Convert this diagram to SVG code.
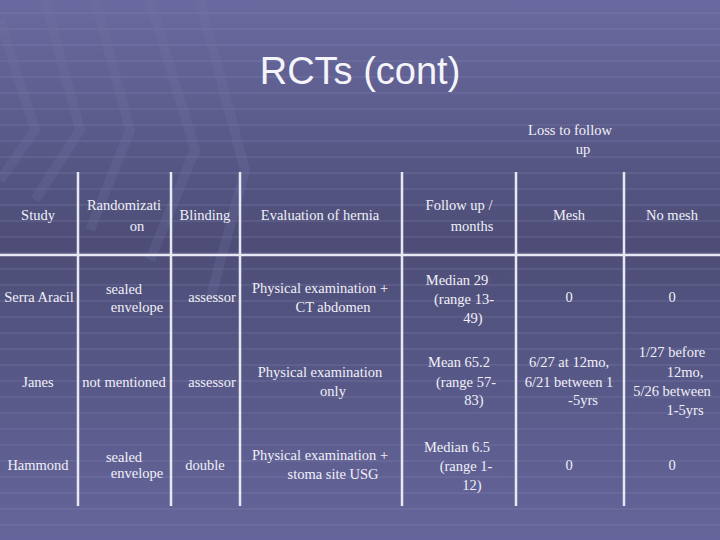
<svg xmlns="http://www.w3.org/2000/svg" width="720" height="540" viewBox="0 0 720 540">
<defs>
<linearGradient id="bg" x1="0" y1="0" x2="0" y2="1">
<stop offset="0" stop-color="#6a6aa0"/>
<stop offset="0.45" stop-color="#4d4d77"/>
<stop offset="1" stop-color="#65659b"/>
</linearGradient>
<pattern id="stripes" width="720" height="16" patternUnits="userSpaceOnUse">
<rect x="0" y="12" width="720" height="2" fill="#8585b5" opacity="0.2"/>
</pattern>
<style>
.t{font-size:14.5px;fill:#f0f0f8}
.m{text-anchor:middle}
.g line{stroke:#e8e8f2;stroke-width:2.5}
.d{stroke:#7272a4;stroke-width:10;fill:none;opacity:0.25}
</style>
</defs>
<rect width="720" height="540" fill="url(#bg)"/>
<rect width="720" height="540" fill="url(#stripes)"/>
<g class="bgdiag">
<path class="d" d="M0 20 L35 130 L0 180"/>
<path class="d" d="M45 0 L80 130 L35 200"/>
<path class="d" d="M95 0 L130 130 L90 230"/>
<path class="d" d="M150 0 L195 150 L150 260"/>
<path class="d" d="M200 0 L245 170 L210 300"/>
</g>
<text x="360" y="84" font-family="Liberation Sans,Arial,sans-serif" font-size="38" fill="#f4f4fa" text-anchor="middle">RCTs (cont)</text>
<g id="connectors" class="g">
<line x1="78" y1="172" x2="78" y2="506"/>
<line x1="171" y1="172" x2="171" y2="506"/>
<line x1="240" y1="172" x2="240" y2="506"/>
<line x1="402" y1="172" x2="402" y2="506"/>
<line x1="516" y1="172" x2="516" y2="506"/>
<line x1="624" y1="172" x2="624" y2="506"/>
<line x1="0" y1="255" x2="720" y2="255"/>
</g>
<g font-family="'Liberation Serif', 'DejaVu Serif', serif">
<g id="header" class="t">
<text class="m" x="570" y="135">Loss to follow</text>
<text class="m" x="583" y="154">up</text>
<text class="m" x="38" y="220">Study</text>
<text class="m" x="124" y="210">Randomizati</text>
<text class="m" x="137" y="231">on</text>
<text class="m" x="205" y="220">Blinding</text>
<text class="m" x="320" y="220">Evaluation of hernia</text>
<text class="m" x="459" y="210">Follow up /</text>
<text class="m" x="472" y="231">months</text>
<text class="m" x="569" y="220">Mesh</text>
<text class="m" x="672" y="220">No mesh</text>
</g>
<g id="row-serra" class="t">
<text class="m" x="39" y="302">Serra Aracil</text>
<text class="m" x="124" y="294">sealed</text>
<text class="m" x="137" y="312">envelope</text>
<text class="m" x="212" y="302">assessor</text>
<text class="m" x="320" y="293">Physical examination +</text>
<text class="m" x="333" y="312">CT abdomen</text>
<text class="m" x="457" y="285">Median 29</text>
<text class="m" x="464" y="304">(range 13-</text>
<text class="m" x="473" y="323">49)</text>
<text class="m" x="569" y="302">0</text>
<text class="m" x="672" y="302">0</text>
</g>
<g id="row-janes" class="t">
<text class="m" x="38" y="387">Janes</text>
<text class="m" x="124" y="387">not mentioned</text>
<text class="m" x="212" y="387">assessor</text>
<text class="m" x="320" y="377">Physical examination</text>
<text class="m" x="333" y="396">only</text>
<text class="m" x="459" y="367">Mean 65.2</text>
<text class="m" x="466" y="387">(range 57-</text>
<text class="m" x="474" y="405">83)</text>
<text class="m" x="569" y="367">6/27 at 12mo,</text>
<text class="m" x="569" y="387">6/21 between 1</text>
<text class="m" x="583" y="405">-5yrs</text>
<text class="m" x="672" y="357">1/27 before</text>
<text class="m" x="685" y="377">12mo,</text>
<text class="m" x="672" y="396">5/26 between</text>
<text class="m" x="685" y="415">1-5yrs</text>
</g>
<g id="row-hammond" class="t">
<text class="m" x="38" y="470">Hammond</text>
<text class="m" x="124" y="462">sealed</text>
<text class="m" x="137" y="478">envelope</text>
<text class="m" x="205" y="470">double</text>
<text class="m" x="320" y="460">Physical examination +</text>
<text class="m" x="333" y="479">stoma site USG</text>
<text class="m" x="457" y="452">Median 6.5</text>
<text class="m" x="466" y="471">(range 1-</text>
<text class="m" x="472" y="490">12)</text>
<text class="m" x="569" y="470">0</text>
<text class="m" x="672" y="470">0</text>
</g>
</g>
</svg>
